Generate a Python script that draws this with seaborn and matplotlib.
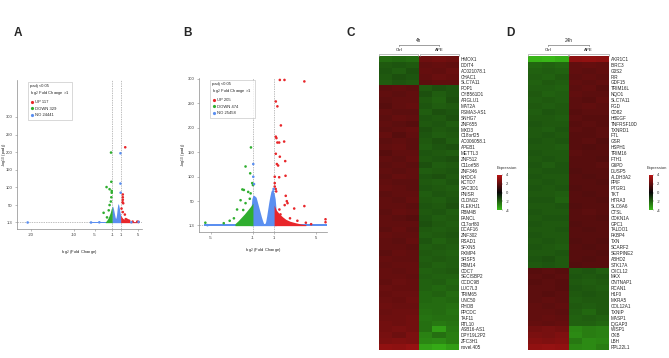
import numpy as np
import pandas as pd
import matplotlib
matplotlib.use("Agg")
import matplotlib.pyplot as plt
from matplotlib.lines import Line2D
from matplotlib.colors import LinearSegmentedColormap
import seaborn as sns

sns.set_style("white")
plt.rcParams['font.family'] = ['Liberation Sans', 'DejaVu Sans']

W, H = 669, 358
RED, GREEN, BLUE = "#e8262a", "#2fae2f", "#5b8ff0"

# ---------------- Volcano A data ----------------
a_up_x = [2.07, 1.5, 1.5, 1.5, 1.45, 1.6, 1.98, 2.2, 2.5, 3.0, 3.8, 4.9, 5.2, 1.2, 1.5, 2.8]
a_up_y = [214, 80, 72, 65, 58, 55, 23, 10, 8, 5, 3, 3, 2, 40, 30, 6]
a_dn_x = [-1.26, -1.19, -2.31, -1.6, -1.1, -1.1, -1.19, -1.6, -3.0, -1.3, -1.8, -2.2]
a_dn_y = [199, 116, 101, 95, 90, 85, 72, 50, 28, 60, 35, 15]
a_no_x = [0.95, 0.95, 1.0, -20.8, -5.95, 5.2, -4.0, 3.5]
a_no_y = [197, 111, 85, 0.5, 0.5, 2, 1, 1]
a_blue_env_x = [-1.1, -1.0, -0.9, -0.8, -0.7, -0.6, -0.5, -0.4, -0.3, -0.2, -0.1, 0.0, 0.1, 0.2, 0.3, 0.4, 0.5, 0.6, 0.7, 0.8, 0.9, 1.0, 1.1]
a_blue_env_y = [30, 45, 47, 44, 40, 34, 28, 22, 16, 12, 14, 20, 30, 42, 50, 54, 52, 47, 40, 33, 26, 20, 10]
a_green_env_x = [-2.6, -2.3, -2.0, -1.7, -1.4, -1.2, -1.0]
a_green_env_y = [2, 6, 12, 20, 30, 40, 46]
a_red_env_x = [1.0, 1.2, 1.5, 2.0, 2.5, 3.0, 4.0, 5.0]
a_red_env_y = [22, 17, 12, 9, 6, 4, 3, 2]
a_base_x = [-6.1, 5.3]
a_base_y = [3, 3]
a_counts = ["UP 117", "DOWN 329", "NO 24441"]

# ---------------- Volcano B data ----------------
b_up_x = [1.54, 1.98, 3.86, 1.16, 1.31, 1.64, 1.16, 1.22, 1.31, 1.48, 1.95, 1.16, 1.54, 1.26, 1.38, 2.05,
          2.08, 1.48, 1.06, 1.06, 1.06, 1.15, 1.2, 2.1, 2.2, 2.0, 2.27, 3.86, 2.9, 1.5, 1.6, 5.86, 5.86,
          2.5, 3.2, 4.0, 4.5]
b_up_y = [298, 298, 295, 254, 244, 205, 182, 179, 170, 170, 172, 147, 141, 126, 123, 132,
          102, 99, 100, 87, 80, 75, 70, 61, 50, 42, 46, 40, 35, 33, 23, 13, 7,
          15, 10, 6, 3]
b_dn_x = [-1.7, -1.26, -1.07, -1.0, -2.0, -1.86, -1.45, -1.22, -2.17, -1.7, -2.5, -1.92, -5.5, -3.76,
          -1.19, -1.3, -2.8, -3.2]
b_dn_y = [121, 107, 87, 83, 74, 73, 69, 66, 52, 46, 33, 32, 6, 5, 160, 55, 15, 10]
b_no_x = [-0.97, -0.97, -0.9, 0.9, 0.95, -5.3]
b_no_y = [126, 100, 85, 70, 75, 1]
b_blue_env_x = [-1.2, -1.1, -1.0, -0.9, -0.8, -0.7, -0.6, -0.5, -0.4, -0.3, -0.2, -0.1, 0.0, 0.1, 0.2,
                0.3, 0.4, 0.5, 0.6, 0.7, 0.8, 0.9, 1.0, 1.1, 1.2]
b_blue_env_y = [30, 55, 62, 62, 60, 58, 50, 42, 34, 26, 18, 11, 5, 3, 8, 20, 34, 48, 60, 70, 72, 70, 66, 55, 30]
b_green_env_x = [-2.7, -2.4, -2.1, -1.8, -1.5, -1.2, -1.0]
b_green_env_y = [4, 10, 17, 24, 32, 40, 46]
b_red_env_x = [1.0, 1.2, 1.5, 1.8, 2.1, 2.5, 3.0, 3.5, 4.0]
b_red_env_y = [42, 32, 24, 18, 13, 9, 6, 3.5, 2]
b_base_x = [-5.6, 6.0]
b_base_y = [3.5, 3.5]
b_counts = ["UP 205", "DOWN 474", "NO 25458"]

# ---------------- Heatmap C data ----------------
c_genes = ["HMOX1", "DDIT4", "AC021078.1", "CHAC1", "SLC7A11", "POP1", "CYB561D1", "ARGLU1", "MAT2A",
           "PSMA3-AS1", "SNHG7", "ZNF655", "MXD3", "C18orf25", "AC006058.1", "APEB1", "METTL3", "ZNF512",
           "C11orf58", "ZNF346", "KHDC4", "KCTD7", "SAC3D1", "PNISR", "CLDN12", "PLEKHJ1", "RBM4B", "FANCL",
           "C17orf80", "DCAF16", "ZNF302", "RSAD1", "SFXN5", "PXMP4", "SRSF5", "RBM14", "CDC7", "SECISBP2",
           "CCDC9B", "LUC7L3", "TRIM65", "UNC50", "RHOB", "PPCDC", "TAF11", "RTL10", "ASB16-AS1",
           "DPY19L2P2", "ZFC3H1", "novel.405"]
c_values = [
    [-2.2, -2.1, -2.2, 2.3, 2.4, 2.3],
    [-1.8, -1.7, -1.8, 2.0, 2.1, 2.0],
    [-1.7, -1.9, -1.6, 2.1, 2.0, 2.2],
    [-1.8, -1.6, -1.7, 2.0, 2.2, 2.1],
    [-1.9, -1.7, -1.8, 1.9, 2.0, 2.0],
    [1.9, 2.0, 1.9, -1.8, -1.6, -1.7],
    [2.0, 1.9, 2.0, -1.6, -1.9, -1.7],
    [1.9, 2.0, 2.0, -1.8, -2.0, -1.6],
    [1.8, 2.0, 2.1, -1.7, -1.9, -1.8],
    [2.0, 1.9, 1.9, -1.9, -1.6, -1.7],
    [1.9, 2.1, 2.0, -1.7, -1.8, -1.6],
    [2.0, 1.9, 1.8, -1.8, -1.7, -1.9],
    [1.9, 2.0, 2.1, -1.6, -1.8, -1.7],
    [2.1, 1.8, 2.0, -1.7, -1.9, -1.8],
    [1.9, 2.0, 1.9, -1.8, -1.6, -1.9],
    [2.0, 2.1, 1.9, -1.9, -1.7, -1.6],
    [1.8, 2.0, 2.0, -1.7, -1.8, -1.9],
    [2.0, 1.9, 2.1, -1.8, -1.7, -1.6],
    [1.9, 2.0, 1.9, -1.6, -1.9, -1.8],
    [2.0, 1.9, 2.0, -1.9, -1.8, -1.7],
    [1.9, 2.1, 2.0, -1.7, -1.6, -1.8],
    [2.0, 1.9, 1.9, -1.8, -1.9, -1.7],
    [2.1, 2.0, 1.9, -1.7, -1.8, -1.9],
    [1.9, 2.0, 2.0, -1.9, -1.7, -1.8],
    [2.0, 1.9, 2.1, -1.8, -1.9, -1.7],
    [2.0, 2.0, 1.9, -1.7, -1.8, -1.6],
    [1.9, 2.1, 2.0, -1.8, -1.7, -1.9],
    [2.0, 1.9, 1.8, -1.7, -1.9, -1.8],
    [2.0, 2.0, 2.0, -1.6, -1.8, -1.9],
    [1.9, 2.1, 1.9, -1.8, -1.9, -1.8],
    [2.1, 2.0, 2.0, -1.9, -1.8, -1.7],
    [2.0, 1.9, 2.1, -1.7, -2.0, -1.8],
    [2.0, 2.0, 1.9, -1.9, -1.8, -1.9],
    [1.9, 2.1, 2.0, -1.8, -1.9, -2.0],
    [2.1, 2.0, 2.0, -1.9, -1.8, -1.9],
    [2.0, 2.1, 2.1, -1.8, -2.0, -1.9],
    [2.1, 2.0, 2.1, -2.0, -1.9, -1.8],
    [2.1, 2.1, 2.0, -1.9, -2.0, -2.0],
    [2.0, 2.2, 2.1, -2.0, -1.9, -2.1],
    [2.2, 2.1, 2.1, -2.0, -2.1, -2.0],
    [2.1, 2.2, 2.2, -2.1, -2.0, -2.2],
    [2.2, 2.1, 2.3, -2.1, -2.2, -2.1],
    [2.3, 2.2, 2.2, -2.2, -2.2, -2.3],
    [2.2, 2.3, 2.3, -2.3, -2.2, -2.4],
    [2.3, 2.3, 2.4, -2.4, -2.3, -2.3],
    [2.4, 2.3, 2.4, -2.3, -2.5, -2.4],
    [2.4, 2.5, 2.4, -2.3, -3.3, -2.5],
    [2.5, 2.3, 2.6, -2.7, -2.3, -2.6],
    [2.6, 2.7, 2.6, -2.8, -2.9, -2.6],
    [3.1, 3.0, 3.2, -3.4, -3.6, -3.3],
]

# ---------------- Heatmap D data ----------------
d_genes = ["AKR1C1", "BIRC3", "G0S2", "PIR", "GDF15", "TRIM16L", "NQO1", "SLC7A11", "PGD", "CD82", "HBEGF",
           "TNFRSF10D", "TXNRD1", "FTL", "GSR", "HSPH1", "TRIM16", "FTH1", "G6PD", "DUSP5", "ALDH3A2", "PPIF",
           "PTGR1", "TKT", "HTRA3", "SLC6A6", "CTSL", "CDKN1A", "GPC1", "TALDO1", "FKBP4", "TXN", "SCARF2",
           "SERPINE2", "ABHD2", "STK17A", "CXCL12", "MKX", "CNTNAP1", "RCAN1", "H1F0", "MXRA5", "COL12A1",
           "TXNIP", "MASP1", "IQGAP3", "WISP1", "CKB", "LBH", "RPL22L1"]
d_values = [
    [-3.8, -3.9, -3.7, 3.0, 3.1, 3.0],
    [-2.1, -2.0, -2.1, 2.0, 2.1, 2.0],
    [-2.0, -1.9, -2.0, 2.0, 1.9, 2.0],
    [-1.9, -2.0, -1.8, 1.9, 2.0, 1.9],
    [-2.0, -1.8, -1.9, 2.0, 1.9, 2.0],
    [-1.9, -1.9, -2.0, 1.9, 2.0, 1.8],
    [-1.8, -2.0, -1.9, 2.0, 1.9, 1.9],
    [-1.9, -1.8, -1.9, 1.9, 1.8, 2.0],
    [-1.8, -1.9, -1.8, 1.9, 2.0, 1.9],
    [-1.9, -1.7, -1.8, 1.8, 1.9, 1.9],
    [-1.8, -1.8, -1.9, 1.9, 1.8, 1.8],
    [-1.7, -1.8, -1.8, 1.8, 1.9, 1.8],
    [-1.8, -1.9, -1.7, 1.9, 1.8, 1.9],
    [-1.8, -1.7, -1.8, 1.8, 1.8, 1.9],
    [-1.7, -1.8, -1.7, 1.8, 1.9, 1.7],
    [-1.8, -1.8, -1.9, 1.8, 1.7, 1.8],
    [-1.7, -1.8, -1.8, 1.9, 1.8, 1.8],
    [-1.8, -1.7, -1.8, 1.8, 1.8, 1.7],
    [-1.7, -1.9, -1.7, 1.8, 1.8, 1.9],
    [-1.8, -1.7, -1.7, 1.7, 1.8, 1.8],
    [-1.7, -1.8, -1.8, 1.8, 1.7, 1.8],
    [-1.8, -1.7, -1.8, 1.8, 1.8, 1.7],
    [-1.7, -1.8, -1.7, 1.7, 1.8, 1.8],
    [-1.8, -1.8, -1.9, 1.8, 1.7, 1.8],
    [-1.7, -1.7, -2.0, 1.8, 1.8, 1.7],
    [-1.8, -1.8, -1.7, 1.7, 1.8, 1.8],
    [-1.7, -1.8, -1.8, 1.8, 1.9, 1.8],
    [-1.8, -1.7, -1.7, 1.8, 1.8, 1.7],
    [-1.7, -1.8, -1.8, 1.7, 1.8, 1.8],
    [-1.8, -1.8, -1.7, 1.8, 1.7, 1.8],
    [-1.7, -1.8, -1.8, 1.8, 1.8, 1.8],
    [-1.8, -1.7, -1.8, 1.7, 1.8, 1.7],
    [-1.7, -1.8, -1.9, 1.8, 1.7, 1.8],
    [-1.8, -1.8, -1.7, 1.8, 1.8, 1.7],
    [-1.7, -1.6, -1.8, 1.8, 1.7, 1.8],
    [-1.8, -1.7, -1.8, 1.7, 1.8, 1.8],
    [1.8, 1.9, 1.8, -1.8, -1.7, -1.9],
    [1.9, 1.8, 1.9, -1.7, -1.8, -1.7],
    [1.8, 1.9, 1.8, -1.8, -1.9, -1.8],
    [1.9, 1.9, 1.8, -1.7, -1.8, -1.9],
    [1.9, 1.8, 1.9, -1.8, -1.7, -1.8],
    [1.9, 2.0, 1.9, -1.9, -1.8, -1.8],
    [2.0, 1.9, 2.0, -1.8, -1.9, -1.8],
    [2.0, 2.0, 1.9, -1.9, -2.1, -1.8],
    [2.0, 2.1, 2.0, -2.0, -1.9, -2.0],
    [2.1, 2.0, 2.1, -2.0, -2.0, -2.1],
    [2.4, 2.5, 2.4, -2.8, -2.6, -2.7],
    [2.6, 2.5, 2.7, -2.9, -2.6, -2.7],
    [2.8, 2.7, 2.8, -2.5, -2.9, -2.8],
    [3.1, 3.2, 3.1, -2.8, -2.9, -2.6],
]
samples = ["Ctrl1", "Ctrl2", "Ctrl3", "APE1", "APE2", "APE3"]
cbar_ticks = [4, 2, 0, -2, -4]


def fx(x):
    return x / W


def fy(y):
    return 1 - y / H


def box(l, t, r, b):
    return [fx(l), fy(b), (r - l) / W, (b - t) / H]


fig = plt.figure(figsize=(W / 100, H / 100), dpi=100)

TICK_FS = 3.0


def volcano(ax, up_x, up_y, dn_x, dn_y, no_x, no_y, benv, genv, renv, base, counts,
            xlim, ylim, xticks, xlabelpad, ylab_x):
    ax.fill_between(base[0], 0, base[1], color=BLUE, lw=0, zorder=1)
    ax.fill_between(benv[0], 0, benv[1], color=BLUE, lw=0, zorder=1)
    ax.fill_between(genv[0], 0, genv[1], color=GREEN, lw=0, zorder=2)
    ax.fill_between(renv[0], 0, renv[1], color=RED, lw=0, zorder=2)
    df = pd.DataFrame({
        "x": list(up_x) + list(dn_x) + list(no_x),
        "y": list(up_y) + list(dn_y) + list(no_y),
        "g": [counts[0]] * len(up_x) + [counts[1]] * len(dn_x) + [counts[2]] * len(no_x),
    })
    sns.scatterplot(data=df, x="x", y="y", hue="g", hue_order=counts,
                    palette={counts[0]: RED, counts[1]: GREEN, counts[2]: BLUE},
                    s=3.5, linewidth=0, ax=ax, zorder=3)
    for v in (-1, 1):
        ax.axvline(v, color="#9a9a9a", lw=0.45, ls=(0, (2.2, 1.6)), zorder=0.5)
    ax.axhline(1.3, color="#9a9a9a", lw=0.45, ls=(0, (2.2, 1.6)), zorder=0.5)
    ax.set_xlim(*xlim)
    ax.set_ylim(*ylim)
    ax.set_xticks(xticks)
    ax.set_xticklabels([str(t) for t in xticks])
    ax.set_yticks([1.3, 50, 100, 150, 200, 250, 300])
    ax.set_yticklabels(["1.3", "50", "100", "150", "200", "250", "300"])
    for s in ("top", "right"):
        ax.spines[s].set_visible(False)
    for s in ("left", "bottom"):
        ax.spines[s].set_color("#8a8a8a")
        ax.spines[s].set_linewidth(0.5)
    ax.tick_params(axis="both", labelsize=TICK_FS, length=1.5, width=0.4, pad=1.5,
                   colors="#8a8a8a", labelcolor="#333333", left=True, bottom=True)
    ax.set_xlabel("log$_2$ (Fold Change)", fontsize=TICK_FS, labelpad=xlabelpad, color="#222222")
    ax.set_ylabel("-log$_{10}$ (padj)", fontsize=TICK_FS, color="#222222")
    ax.yaxis.set_label_coords(ylab_x, 0.5)
    handles, labels = ax.get_legend_handles_labels()
    for h in handles:
        try:
            h.set_markersize(2.3)
        except Exception:
            pass
    leg = ax.legend(handles, labels, title="padj <0.05\nlog$_2$ Fold Change >1", loc="upper left",
                    bbox_to_anchor=(0.07, 1.0), fontsize=TICK_FS, title_fontsize=TICK_FS,
                    frameon=True, fancybox=False, edgecolor="#aaaaaa", borderpad=0.55,
                    handletextpad=0.4, labelspacing=0.65, handlelength=0.8, alignment="left")
    leg.get_frame().set_linewidth(0.4)


axA = fig.add_axes(box(17, 80, 142, 229))
volcano(axA, a_up_x, a_up_y, a_dn_x, a_dn_y, a_no_x, a_no_y,
        (a_blue_env_x, a_blue_env_y), (a_green_env_x, a_green_env_y), (a_red_env_x, a_red_env_y),
        (a_base_x, a_base_y), a_counts, (-23.3, 6.0), (-18, 405), [-20, -10, -5, -1, 1, 5], 8, -0.075)

axB = fig.add_axes(box(199, 78, 327, 232))
volcano(axB, b_up_x, b_up_y, b_dn_x, b_dn_y, b_no_x, b_no_y,
        (b_blue_env_x, b_blue_env_y), (b_green_env_x, b_green_env_y), (b_red_env_x, b_red_env_y),
        (b_base_x, b_base_y), b_counts, (-6.1, 6.0), (-13, 302), [-5, -1, 1, 5], 4, -0.095)

cmap = LinearSegmentedColormap.from_list("expr", ["#3abb18", "#080808", "#b81414"])


def heat(ax, cax, genes, values, hx0, hx1, title, lblx):
    df = pd.DataFrame(values, index=genes, columns=samples)
    sns.heatmap(df, ax=ax, cmap=cmap, vmin=-4, vmax=4, cbar=True, cbar_ax=cax,
                xticklabels=False, yticklabels=True, linewidths=0)
    ax.yaxis.tick_right()
    ax.tick_params(axis="y", labelsize=3.3, length=0, pad=1.2, labelrotation=0)
    for t in ax.get_yticklabels():
        t.set_horizontalalignment("left")
    ax.set_xlabel("")
    ax.set_ylabel("")
    cb = ax.collections[0].colorbar
    cb.set_ticks(cbar_ticks)
    cb.set_ticklabels([str(t) for t in cbar_ticks])
    cb.outline.set_visible(False)
    cax.tick_params(labelsize=3.0, length=1.0, width=0.3, pad=1.5, colors="#555555", labelcolor="#333333")
    fig.text(lblx, fy(168), "Expression", fontsize=3.0, ha="center", va="center", color="#333333")
    cc = (hx0 + (hx0 + hx1) / 2) / 2
    ca = ((hx0 + hx1) / 2 + hx1) / 2
    mid = (hx0 + hx1) / 2
    fig.text(fx(mid), fy(41), title, fontsize=3.4, ha="center", va="center", color="#222222")
    fig.add_artist(Line2D([fx(cc), fx(ca)], [fy(45), fy(45)], lw=0.5, color="#777777"))
    for xx in (cc, ca):
        fig.add_artist(Line2D([fx(xx), fx(xx)], [fy(45), fy(46.3)], lw=0.5, color="#777777"))
    fig.text(fx(cc), fy(50), "Ctrl", fontsize=3.2, ha="center", va="center", color="#222222")
    fig.text(fx(ca), fy(50), "APE", fontsize=3.2, ha="center", va="center", color="#222222")
    for a, b in ((hx0, mid - 0.6), (mid + 0.6, hx1)):
        fig.add_artist(Line2D([fx(a), fx(a), fx(b), fx(b)], [fy(56), fy(54), fy(54), fy(56)],
                              lw=0.45, color="#999999"))


axC = fig.add_axes(box(379, 56, 459, 350))
caxC = fig.add_axes(box(497, 175, 502, 210))
heat(axC, caxC, c_genes, c_values, 379, 459, "4h", fx(507))

axD = fig.add_axes(box(528, 56, 609, 350))
caxD = fig.add_axes(box(649, 175, 653, 210))
heat(axD, caxD, d_genes, d_values, 528, 609, "24h", fx(657))

for lbl, x in (("A", 18), ("B", 188), ("C", 351), ("D", 510)):
    fig.text(fx(x), fy(33), lbl, fontsize=8.5, fontweight="bold", ha="center", va="center")

fig.savefig("out.png", dpi=100)
